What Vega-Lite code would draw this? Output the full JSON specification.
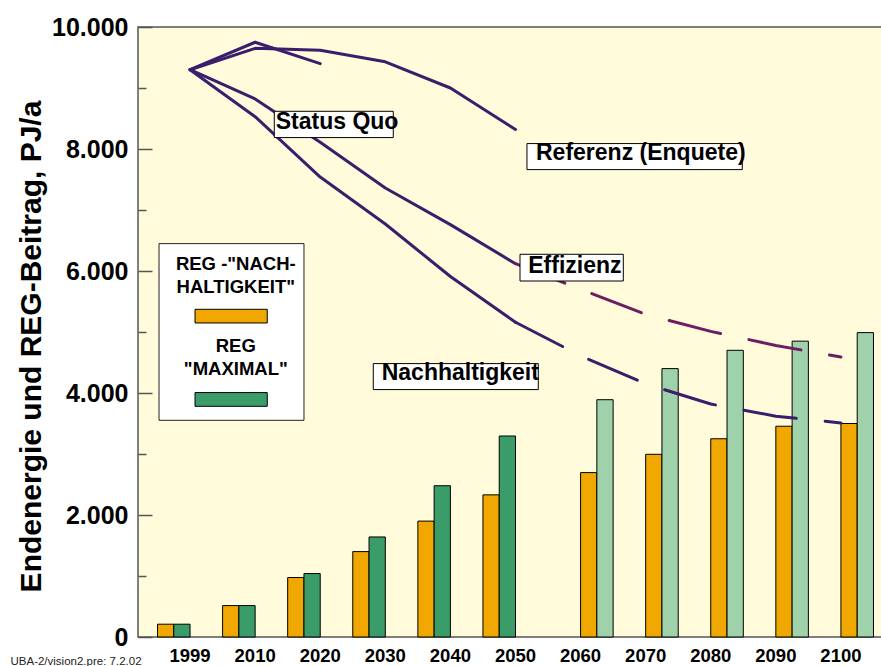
{
  "$schema": "https://vega.github.io/schema/vega-lite/v6.json",
  "width": 745,
  "height": 610,
  "autosize": {"type": "none"},
  "padding": {"left": 138, "top": 27, "right": 0, "bottom": 29},
  "background": "white",
  "config": {
    "view": {"fill": "#FFFBDB", "stroke": "#555555", "strokeWidth": 1.5},
    "font": "Liberation Sans"
  },
  "datasets": {
    "bars": [
      {"year": "1999", "series": "REG Nachhaltigkeit", "value": 210},
      {"year": "1999", "series": "REG Maximal", "value": 210},
      {"year": "2010", "series": "REG Nachhaltigkeit", "value": 515},
      {"year": "2010", "series": "REG Maximal", "value": 515},
      {"year": "2020", "series": "REG Nachhaltigkeit", "value": 975},
      {"year": "2020", "series": "REG Maximal", "value": 1040},
      {"year": "2030", "series": "REG Nachhaltigkeit", "value": 1400},
      {"year": "2030", "series": "REG Maximal", "value": 1640},
      {"year": "2040", "series": "REG Nachhaltigkeit", "value": 1900},
      {"year": "2040", "series": "REG Maximal", "value": 2480},
      {"year": "2050", "series": "REG Nachhaltigkeit", "value": 2330},
      {"year": "2050", "series": "REG Maximal", "value": 3295},
      {"year": "2060", "series": "REG Nachhaltigkeit ab 2060", "value": 2695},
      {"year": "2060", "series": "REG Maximal ab 2060", "value": 3890},
      {"year": "2070", "series": "REG Nachhaltigkeit ab 2060", "value": 2995},
      {"year": "2070", "series": "REG Maximal ab 2060", "value": 4400},
      {"year": "2080", "series": "REG Nachhaltigkeit ab 2060", "value": 3250},
      {"year": "2080", "series": "REG Maximal ab 2060", "value": 4700},
      {"year": "2090", "series": "REG Nachhaltigkeit ab 2060", "value": 3455},
      {"year": "2090", "series": "REG Maximal ab 2060", "value": 4850},
      {"year": "2100", "series": "REG Nachhaltigkeit ab 2060", "value": 3500},
      {"year": "2100", "series": "REG Maximal ab 2060", "value": 4990}
    ],
    "lines": [
      {"year": "1999", "scenario": "Status Quo", "part": "solid", "value": 9300},
      {"year": "2010", "scenario": "Status Quo", "part": "solid", "value": 9750},
      {"year": "2020", "scenario": "Status Quo", "part": "solid", "value": 9400},
      {"year": "1999", "scenario": "Referenz", "part": "solid", "value": 9300},
      {"year": "2010", "scenario": "Referenz", "part": "solid", "value": 9650},
      {"year": "2020", "scenario": "Referenz", "part": "solid", "value": 9620},
      {"year": "2030", "scenario": "Referenz", "part": "solid", "value": 9430},
      {"year": "2040", "scenario": "Referenz", "part": "solid", "value": 9000},
      {"year": "2050", "scenario": "Referenz", "part": "solid", "value": 8320},
      {"year": "1999", "scenario": "Effizienz", "part": "solid", "value": 9300},
      {"year": "2010", "scenario": "Effizienz", "part": "solid", "value": 8820},
      {"year": "2020", "scenario": "Effizienz", "part": "solid", "value": 8110},
      {"year": "2030", "scenario": "Effizienz", "part": "solid", "value": 7360},
      {"year": "2040", "scenario": "Effizienz", "part": "solid", "value": 6760},
      {"year": "2050", "scenario": "Effizienz", "part": "solid", "value": 6120},
      {"year": "2050", "scenario": "Effizienz", "part": "dashed", "value": 6120},
      {"year": "2060", "scenario": "Effizienz", "part": "dashed", "value": 5700},
      {"year": "2070", "scenario": "Effizienz", "part": "dashed", "value": 5290},
      {"year": "2080", "scenario": "Effizienz", "part": "dashed", "value": 5010},
      {"year": "2090", "scenario": "Effizienz", "part": "dashed", "value": 4780},
      {"year": "2100", "scenario": "Effizienz", "part": "dashed", "value": 4590},
      {"year": "1999", "scenario": "Nachhaltigkeit", "part": "solid", "value": 9300},
      {"year": "2010", "scenario": "Nachhaltigkeit", "part": "solid", "value": 8530},
      {"year": "2020", "scenario": "Nachhaltigkeit", "part": "solid", "value": 7540},
      {"year": "2030", "scenario": "Nachhaltigkeit", "part": "solid", "value": 6770},
      {"year": "2040", "scenario": "Nachhaltigkeit", "part": "solid", "value": 5910},
      {"year": "2050", "scenario": "Nachhaltigkeit", "part": "solid", "value": 5160},
      {"year": "2050", "scenario": "Nachhaltigkeit", "part": "dashed", "value": 5160},
      {"year": "2060", "scenario": "Nachhaltigkeit", "part": "dashed", "value": 4610},
      {"year": "2070", "scenario": "Nachhaltigkeit", "part": "dashed", "value": 4150},
      {"year": "2080", "scenario": "Nachhaltigkeit", "part": "dashed", "value": 3820},
      {"year": "2090", "scenario": "Nachhaltigkeit", "part": "dashed", "value": 3620},
      {"year": "2100", "scenario": "Nachhaltigkeit", "part": "dashed", "value": 3510}
    ],
    "notes": [
      {"label": "Status Quo", "bx1": 1.294, "bx2": 3.122, "by1": 8618, "by2": 8187, "tx": 1.316, "ty": 8323},
      {"label": "Referenz (Enquete)", "bx1": 5.176, "bx2": 8.484, "by1": 8089, "by2": 7662, "tx": 5.315, "ty": 7815},
      {"label": "Effizienz", "bx1": 5.069, "bx2": 6.656, "by1": 6274, "by2": 5836, "tx": 5.196, "ty": 5974},
      {"label": "Nachhaltigkeit", "bx1": 2.815, "bx2": 5.35, "by1": 4482, "by2": 4056, "tx": 2.944, "ty": 4208}
    ],
    "legendBox": [
      {"bx1": -0.477, "bx2": 1.75, "by1": 6449, "by2": 3552}
    ],
    "legendText": [
      {"text": "REG -\"NACH-", "tx": 0.7025, "ty": 6021},
      {"text": "HALTIGKEIT\"", "tx": 0.7025, "ty": 5644},
      {"text": "REG", "tx": 0.7025, "ty": 4677},
      {"text": "\"MAXIMAL\"", "tx": 0.7025, "ty": 4300}
    ],
    "legendSwatch": [
      {"series": "REG Nachhaltigkeit", "bx1": 0.076, "bx2": 1.186, "by1": 5372, "by2": 5148},
      {"series": "REG Maximal", "bx1": 0.076, "bx2": 1.186, "by1": 4007, "by2": 3782}
    ]
  },
  "resolve": {"scale": {"x": "independent"}},
  "layer": [
    {
      "layer": [
        {
          "data": {"name": "bars"},
          "mark": {"type": "bar", "stroke": "#000000", "strokeWidth": 1},
          "encoding": {
            "x": {
              "field": "year", "type": "ordinal",
              "scale": {"paddingInner": 0, "paddingOuter": 0.223, "align": 0.672},
              "axis": {
                "orient": "bottom",
                "ticks": false, "domain": false, "grid": false,
                "labelAngle": 0,
                "labelFont": "Liberation Sans", "labelFontSize": 18.5, "labelFontWeight": "bold",
                "labelColor": "#000000", "labelPadding": 9,
                "title": "UBA-2/vision2.pre: 7.2.02",
                "titleFont": "Liberation Sans", "titleFontSize": 11.5, "titleFontWeight": "normal",
                "titleColor": "#222222", "titleX": -128, "titleY": 27,
                "titleAlign": "left", "titleBaseline": "alphabetic"
              }
            },
            "xOffset": {
              "field": "series", "type": "nominal",
              "scale": {"domain": ["REG Nachhaltigkeit", "REG Maximal", "REG Nachhaltigkeit ab 2060", "REG Maximal ab 2060"], "paddingInner": 0, "paddingOuter": 0}
            },
            "y": {
              "field": "value", "type": "quantitative",
              "scale": {"domain": [0, 10000], "nice": false},
              "axis": {
                "orient": "left",
                "values": [0, 1000, 2000, 3000, 4000, 5000, 6000, 7000, 8000, 9000, 10000],
                "labelExpr": "datum.value % 2000 === 0 ? replace(format(datum.value, ','), ',', '.') : ''",
                "labelFont": "Liberation Sans", "labelFontSize": 25, "labelFontWeight": "bold",
                "labelColor": "#000000", "labelPadding": 24, "labelOverlap": false, "labelFlush": false, "labelBound": false,
                "tickSize": {"condition": {"test": "datum.value % 2000 === 0", "value": -14}, "value": -8},
                "tickColor": "#555555", "tickWidth": 1.5,
                "domain": false, "grid": false,
                "title": "Endenergie und REG-Beitrag, PJ/a",
                "titleFont": "Liberation Sans", "titleFontSize": 30, "titleFontWeight": "bold", "titleColor": "#000000",
                "titleAngle": 270, "titleX": -107, "titleY": 319, "titleAlign": "center", "titleBaseline": "middle"
              }
            },
            "color": {
              "field": "series", "type": "nominal",
              "scale": {"domain": ["REG Nachhaltigkeit", "REG Maximal", "REG Nachhaltigkeit ab 2060", "REG Maximal ab 2060"],
                        "range": ["#F0A800", "#3A9D69", "#F0A800", "#9FD1AA"]},
              "legend": null
            }
          }
        },
        {
          "data": {"name": "lines"},
          "transform": [{"filter": "datum.part === 'solid'"}],
          "mark": {"type": "line", "color": "#3B1E6B", "strokeWidth": 3, "strokeJoin": "round", "strokeCap": "round"},
          "encoding": {
            "x": {"field": "year", "type": "ordinal"},
            "y": {"field": "value", "type": "quantitative"},
            "detail": {"field": "scenario"}
          }
        },
        {
          "data": {"name": "lines"},
          "transform": [{"filter": "datum.part === 'dashed' && datum.scenario === 'Effizienz'"}],
          "mark": {"type": "line", "color": "#6E1D62", "strokeWidth": 3, "strokeDash": [53, 29], "strokeCap": "round"},
          "encoding": {
            "x": {"field": "year", "type": "ordinal"},
            "y": {"field": "value", "type": "quantitative"}
          }
        },
        {
          "data": {"name": "lines"},
          "transform": [{"filter": "datum.part === 'dashed' && datum.scenario === 'Nachhaltigkeit'"}],
          "mark": {"type": "line", "color": "#3B1E6B", "strokeWidth": 3, "strokeDash": [53, 29], "strokeCap": "round"},
          "encoding": {
            "x": {"field": "year", "type": "ordinal"},
            "y": {"field": "value", "type": "quantitative"}
          }
        }
      ]
    },
    {
      "layer": [
        {
          "data": {"name": "notes"},
          "mark": {"type": "rect", "fill": "#FFFFFF", "stroke": "#000000", "strokeWidth": 1},
          "encoding": {
            "x": {"field": "bx1", "type": "quantitative", "scale": {"domain": [-0.8, 10.646], "nice": false, "zero": false}, "axis": null},
            "x2": {"field": "bx2"},
            "y": {"field": "by1", "type": "quantitative"},
            "y2": {"field": "by2"}
          }
        },
        {
          "data": {"name": "notes"},
          "mark": {"type": "text", "align": "left", "baseline": "alphabetic", "font": "Liberation Sans", "fontSize": 23, "fontWeight": "bold", "color": "#000000"},
          "encoding": {
            "x": {"field": "tx", "type": "quantitative", "axis": null},
            "y": {"field": "ty", "type": "quantitative"},
            "text": {"field": "label"}
          }
        },
        {
          "data": {"name": "legendBox"},
          "mark": {"type": "rect", "fill": "#FFFFFF", "stroke": "#222222", "strokeWidth": 1},
          "encoding": {
            "x": {"field": "bx1", "type": "quantitative", "axis": null},
            "x2": {"field": "bx2"},
            "y": {"field": "by1", "type": "quantitative"},
            "y2": {"field": "by2"}
          }
        },
        {
          "data": {"name": "legendText"},
          "mark": {"type": "text", "align": "center", "baseline": "alphabetic", "font": "Liberation Sans", "fontSize": 18.5, "fontWeight": "bold", "color": "#000000"},
          "encoding": {
            "x": {"field": "tx", "type": "quantitative", "axis": null},
            "y": {"field": "ty", "type": "quantitative"},
            "text": {"field": "text"}
          }
        },
        {
          "data": {"name": "legendSwatch"},
          "mark": {"type": "rect", "stroke": "#000000", "strokeWidth": 1},
          "encoding": {
            "x": {"field": "bx1", "type": "quantitative", "axis": null},
            "x2": {"field": "bx2"},
            "y": {"field": "by1", "type": "quantitative"},
            "y2": {"field": "by2"},
            "color": {"field": "series", "type": "nominal", "legend": null}
          }
        }
      ]
    }
  ]
}
